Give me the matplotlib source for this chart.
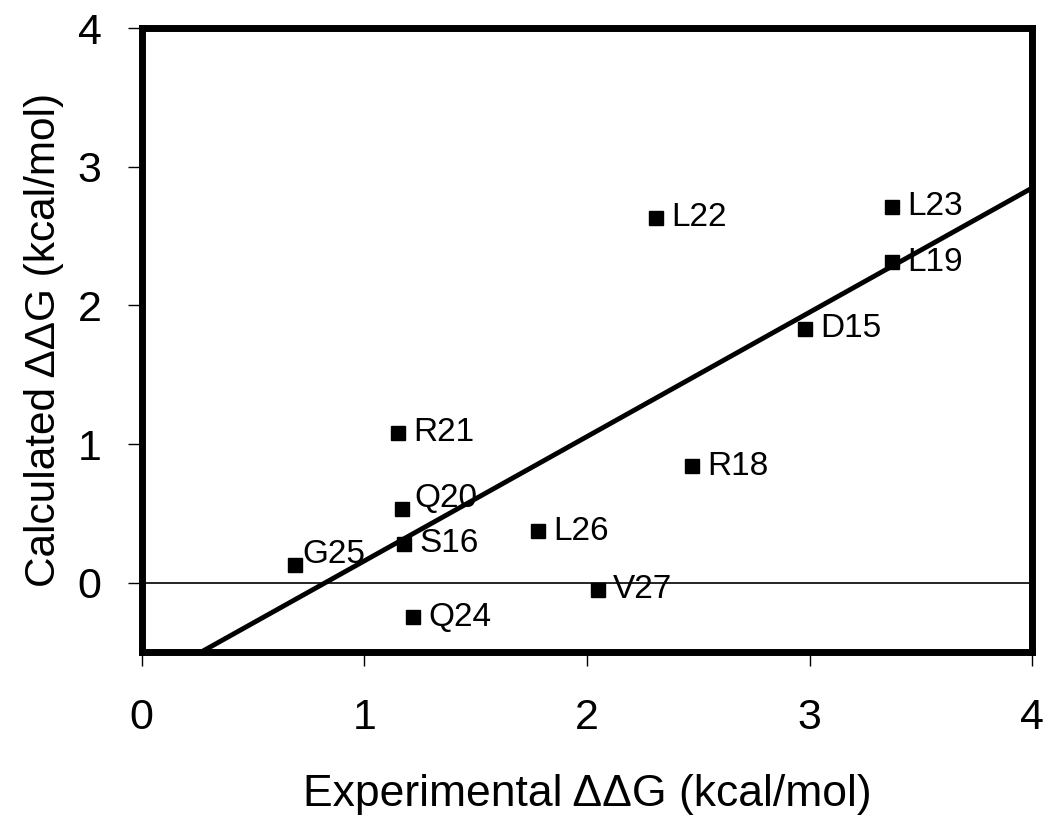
import matplotlib
matplotlib.use("Agg")
import matplotlib.pyplot as plt
import numpy as np

## data
names = ['L22', 'L23', 'L19', 'D15', 'R21', 'R18', 'Q20', 'L26', 'S16', 'G25', 'V27', 'Q24']
exp_ddg = [2.31, 3.37, 3.37, 2.98, 1.15, 2.47, 1.17, 1.78, 1.18, 0.69, 2.05, 1.22]
calc_ddg = [2.63, 2.71, 2.31, 1.83, 1.08, 0.84, 0.53, 0.37, 0.28, 0.13, -0.05, -0.25]
ticks = [0, 1, 2, 3, 4]

plt.rcParams['font.family'] = ['Liberation Sans', 'DejaVu Sans']

fig = plt.figure(figsize=(10.5, 8.27), dpi=100)
ax = fig.add_axes([0.135, 0.2116, 0.848, 0.7545])

ax.axhline(0, color='black', lw=1.2, zorder=1)

# linear fit through the points
slope, icpt = np.polyfit(exp_ddg, calc_ddg, 1)
xs = np.array([0, 4])
ax.plot(xs, slope * xs + icpt, color='black', lw=3.5, zorder=2)

ax.plot(exp_ddg, calc_ddg, 's', color='black', markersize=10.5, zorder=3)

offsets = {'G25': (5, 7), 'Q20': (9, 8)}
for n, x, y in zip(names, exp_ddg, calc_ddg):
    ax.annotate(n, (x, y), xytext=offsets.get(n, (11, 0)), textcoords='offset points',
                fontsize=24, va='center', ha='left')

ax.set_xlim(0, 4)
ax.set_ylim(-0.5, 4)
ax.set_xticks(ticks)
ax.set_yticks(ticks)
for s in ax.spines.values():
    s.set_linewidth(5)
ax.tick_params(axis='both', direction='out', length=10, width=1, labelsize=31)
ax.tick_params(axis='x', pad=23)
ax.tick_params(axis='y', pad=19)

ax.set_xlabel('Experimental \u0394\u0394G (kcal/mol)', fontsize=32, labelpad=26)
ax.set_ylabel('Calculated \u0394\u0394G (kcal/mol)', fontsize=30.5, labelpad=10)

fig.savefig('out.png', dpi=100)
